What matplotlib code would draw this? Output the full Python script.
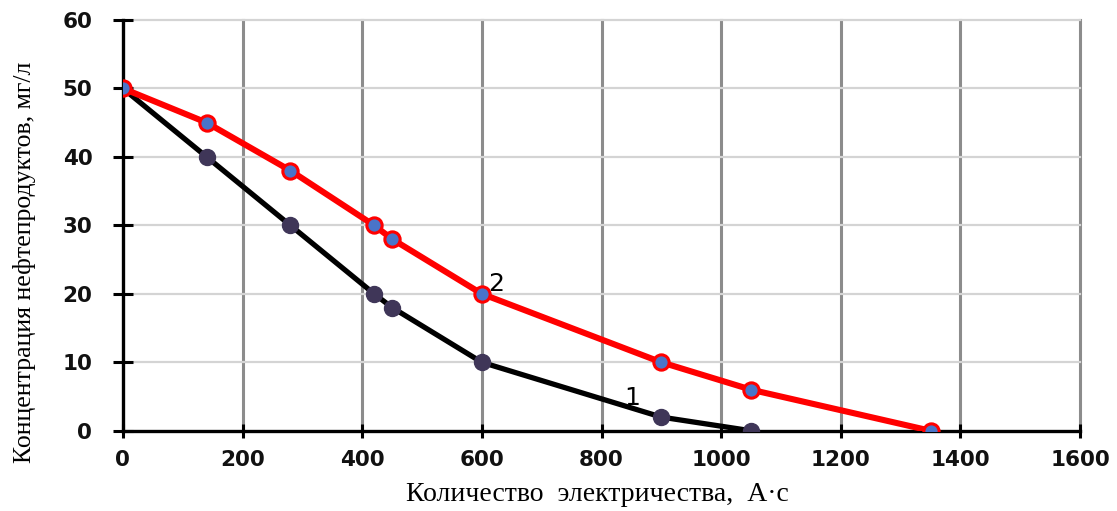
import numpy as np
import matplotlib as mpl
mpl.use('Agg')
import matplotlib.pyplot as plt

# data
q1 = [0, 140, 280, 420, 450, 600, 900, 1050]
c1 = [50, 40, 30, 20, 18, 10, 2, 0]
q2 = [0, 140, 280, 420, 450, 600, 900, 1050, 1350]
c2 = [50, 45, 38, 30, 28, 20, 10, 6, 0]
xticks = [0, 200, 400, 600, 800, 1000, 1200, 1400, 1600]
yticks = [0, 10, 20, 30, 40, 50, 60]

fig = plt.figure(figsize=(11.17, 5.11), dpi=100)
ax = fig.add_axes([0.110, 0.157, 0.857, 0.804])

# grid
for x in xticks[1:]:
    ax.axvline(x, color='#8c8c8c', lw=2.2, zorder=0, clip_on=False)
for y in yticks[1:]:
    ax.axhline(y, color='#d4d4d4', lw=1.6, zorder=0, clip_on=False)

# curves
ax.plot(q1, c1, color='black', lw=3.8, zorder=2)
ax.plot(q1, c1, ls='none', marker='o', ms=11.5, mfc='#3f3658', mec='#3f3658', zorder=3)
ax.plot(q2, c2, color='#ff0000', lw=4.4, zorder=4,
        marker='o', ms=11, mfc='#4a74c9', mec='#ff0000', mew=2.2)

ax.text(851, 4.8, '1', fontsize=18, family='DejaVu Sans', ha='center', va='center')
ax.text(624, 21.4, '2', fontsize=18, family='DejaVu Sans', ha='center', va='center')

ax.set_xlim(0, 1600)
ax.set_ylim(0, 60)
ax.set_xticks(xticks)
ax.set_yticks(yticks)
for s in ['top', 'right']:
    ax.spines[s].set_visible(False)
for s in ['left', 'bottom']:
    ax.spines[s].set_linewidth(2.4)
    ax.spines[s].set_color('black')
ax.tick_params(axis='y', direction='inout', length=14, width=2.2, pad=15)
ax.tick_params(axis='x', direction='inout', length=10, width=2.2, pad=9)
for lab in ax.get_xticklabels() + ax.get_yticklabels():
    lab.set_fontweight('heavy')
    lab.set_fontsize(15.5)
    lab.set_family('DejaVu Sans')
    lab.set_color('#111111')

fig.text(0.535, 0.008, 'Количество  электричества,  А·с',
         ha='center', va='bottom', family='Liberation Serif', fontsize=20)
fig.text(0.022, 0.487, 'Концентрация нефтепродуктов, мг/л', ha='center', va='center',
         rotation=90, family='Liberation Serif', fontsize=18.5)

fig.savefig('out.png', dpi=100)
plt.close()
